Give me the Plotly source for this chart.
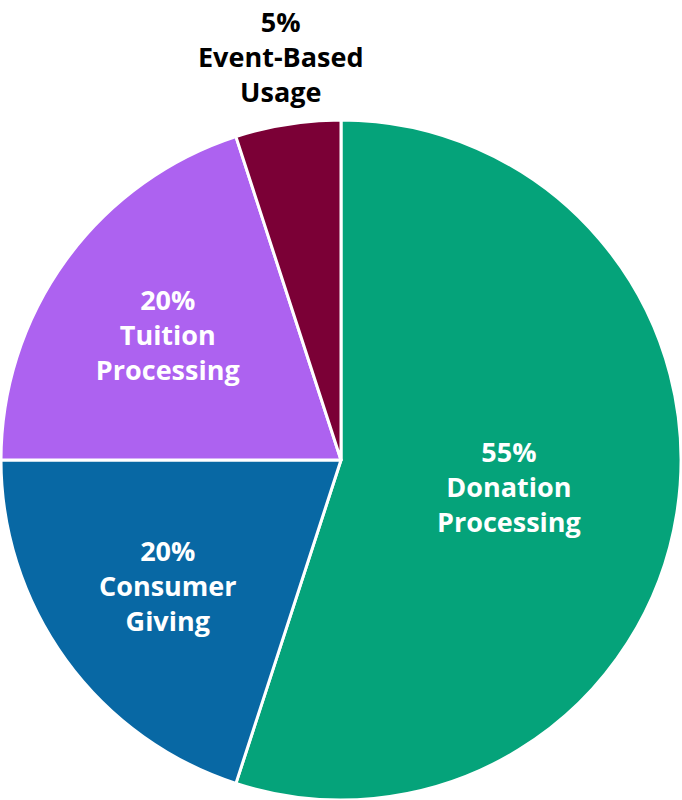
import plotly.graph_objects as go

labels = ["Donation Processing", "Consumer Giving", "Tuition Processing", "Event-Based Usage"]
display_labels = ["Donation<br>Processing", "Consumer<br>Giving", "Tuition<br>Processing", "Event-Based<br>Usage"]
values = [55, 20, 20, 5]
colors = ["#05A37A", "#0868A4", "#AD62F0", "#7B0036"]
positions = ["inside", "inside", "inside", "none"]

FONT = "Open Sans"

fig = go.Figure(go.Pie(
    labels=labels,
    values=values,
    text=display_labels,
    texttemplate="<b>%{percent:.0%}<br>%{text}</b>",
    textposition=positions,
    insidetextorientation="horizontal",
    sort=False,
    direction="clockwise",
    rotation=0,
    marker=dict(colors=colors, line=dict(color="white", width=3)),
    textfont=dict(family=FONT, size=27, color="white"),
    showlegend=False,
    domain=dict(x=[0, 1], y=[0, 0.85]),
))

total = sum(values)
fig.add_annotation(
    text="<b>%d%%<br>%s</b>" % (round(values[3] / total * 100), display_labels[3]),
    x=0.412, y=0.929, xref="paper", yref="paper",
    xanchor="center", yanchor="middle",
    showarrow=False,
    font=dict(family=FONT, size=27, color="black"),
)

fig.update_layout(
    width=682, height=800,
    margin=dict(l=0, r=0, t=0, b=0),
    paper_bgcolor="white",
    font=dict(family=FONT, size=27),
)

fig.write_html("out.html")
